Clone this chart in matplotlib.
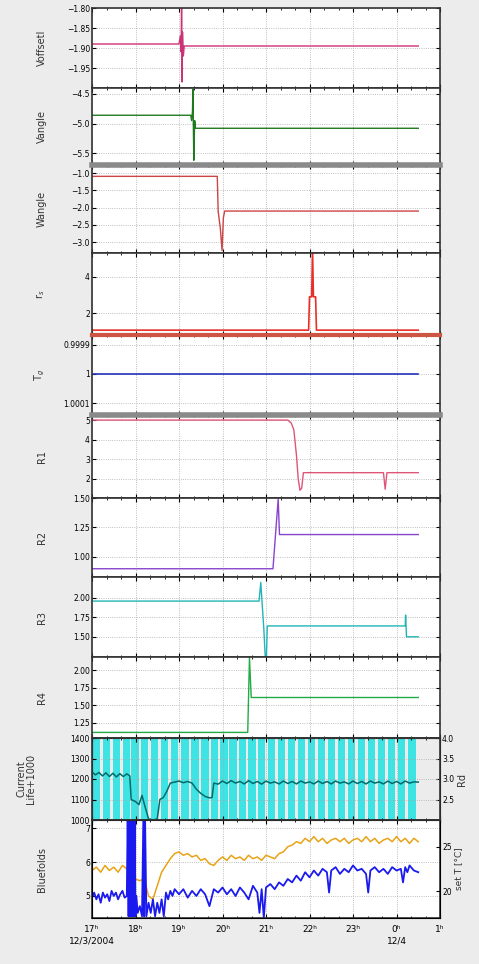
import matplotlib
matplotlib.use("Agg")
import matplotlib.pyplot as plt
from matplotlib.ticker import MultipleLocator, FixedLocator, FormatStrFormatter

# time in hours from 0h of 12/3/2004 (24 = 0h of 12/4)
hour_ticks = [17, 18, 19, 20, 21, 22, 23, 24, 25]
hour_labels = ["17ʰ\n12/3/2004", "18ʰ", "19ʰ", "20ʰ", "21ʰ", "22ʰ", "23ʰ", "0ʰ\n12/4", "1ʰ"]

voff_t = [17.0, 19.0, 19.03, 19.05, 19.06, 19.07, 19.08, 19.1, 19.12, 24.5]
voff_v = [-1.89, -1.89, -1.87, -1.91, -1.74, -1.985, -1.86, -1.92, -1.895, -1.895]

vang_t = [17.0, 19.27, 19.29, 19.31, 19.32, 19.34, 19.36, 19.38, 24.5]
vang_v = [-4.86, -4.86, -4.95, -4.8, -4.42, -5.62, -4.95, -5.08, -5.08]

wang_t = [17.0, 19.88, 19.9, 19.95, 19.99, 20.02, 20.05, 24.5]
wang_v = [-1.09, -1.09, -2.1, -2.6, -3.25, -2.3, -2.1, -2.1]

rs_t = [17.0, 21.98, 22.0, 22.05, 22.07, 22.09, 22.14, 22.16, 24.5]
rs_v = [1.05, 1.05, 2.9, 2.9, 5.6, 2.9, 2.9, 1.05, 1.05]

tg_t = [17.0, 24.5]
tg_v = [1.0, 1.0]

r1_t = [17.0, 21.5, 21.58, 21.64, 21.7, 21.74, 21.78, 21.82, 21.86, 23.7, 23.74, 23.78, 24.5]
r1_v = [5.0, 5.0, 4.85, 4.5, 3.2, 2.0, 1.4, 1.5, 2.3, 2.3, 1.45, 2.3, 2.3]

r2_t = [17.0, 21.16, 21.28, 21.31, 24.5]
r2_v = [0.9, 0.9, 1.49, 1.19, 1.19]

r3_t = [17.0, 20.84, 20.88, 20.95, 21.0, 21.03, 24.2, 24.21, 24.23, 24.5]
r3_v = [1.96, 1.96, 2.2, 1.6, 1.05, 1.64, 1.64, 1.78, 1.5, 1.5]

r4_t = [17.0, 20.58, 20.62, 20.66, 24.5]
r4_v = [1.11, 1.11, 2.18, 1.61, 1.61]

cur_t = [17.0, 17.08, 17.16, 17.24, 17.32, 17.4, 17.48, 17.56, 17.64, 17.72, 17.8, 17.87,
         17.9, 18.0, 18.08, 18.15, 18.2, 18.3, 18.4, 18.5, 18.56, 18.64, 18.72, 18.8,
         18.9, 19.0, 19.1, 19.2, 19.3, 19.4, 19.5, 19.6, 19.7, 19.76, 19.8, 19.9, 20.0,
         20.1, 20.2, 20.3, 20.4, 20.5, 20.6, 20.7, 20.8, 20.9, 21.0, 21.1, 21.2, 21.3,
         21.4, 21.5, 21.6, 21.7, 21.8, 21.9, 22.0, 22.1, 22.2, 22.3, 22.4, 22.5, 22.6,
         22.7, 22.8, 22.9, 23.0, 23.1, 23.2, 23.3, 23.4, 23.5, 23.6, 23.7, 23.8, 23.9,
         24.0, 24.1, 24.2, 24.3, 24.4, 24.5]
cur_v = [1235, 1220, 1232, 1215, 1230, 1212, 1228, 1210, 1226, 1212, 1225, 1215,
         1100, 1090, 1075, 1120, 1080, 1005, 1000, 1005, 1100, 1110, 1140, 1180,
         1185, 1190, 1182, 1188, 1180, 1150, 1130, 1115, 1108, 1110, 1180, 1175, 1190,
         1178, 1192, 1180, 1188, 1176, 1192, 1178, 1188, 1175, 1190, 1180, 1186, 1176,
         1190, 1178, 1188, 1176, 1190, 1180, 1186, 1176, 1190, 1178, 1188, 1176, 1190,
         1180, 1186, 1176, 1190, 1178, 1188, 1176, 1190, 1180, 1186, 1176, 1190, 1178,
         1188, 1176, 1190, 1180, 1186, 1185]

rd_t = [17.1, 17.33, 17.56, 17.79, 17.99, 18.21, 18.44, 18.67, 18.9, 19.14, 19.37,
        19.6, 19.82, 20.03, 20.24, 20.46, 20.68, 20.9, 21.13, 21.36, 21.59, 21.82,
        22.05, 22.28, 22.51, 22.74, 22.97, 23.2, 23.43, 23.66, 23.89, 24.12, 24.36]
rd_v = [4.0, 4.0, 4.0, 4.0, 4.0, 4.0, 4.0, 4.0, 4.0, 4.0, 4.0,
        4.0, 4.0, 4.0, 4.0, 4.0, 4.0, 4.0, 4.0, 4.0, 4.0, 4.0,
        4.0, 4.0, 4.0, 4.0, 4.0, 4.0, 4.0, 4.0, 4.0, 4.0, 4.0]

blue_t = [17.0, 17.05, 17.1, 17.15, 17.2, 17.25, 17.3, 17.35, 17.4, 17.45, 17.5, 17.55,
          17.6, 17.65, 17.7, 17.75, 17.8, 17.82, 17.84, 17.86, 17.88, 17.9, 17.92, 17.94,
          17.96, 17.98, 18.0, 18.02, 18.05, 18.1, 18.15, 18.18, 18.2, 18.22, 18.25, 18.3,
          18.35, 18.4, 18.45, 18.5, 18.55, 18.6, 18.65, 18.7, 18.75, 18.8, 18.85, 18.9,
          19.0, 19.1, 19.2, 19.3, 19.4, 19.5, 19.6, 19.7, 19.8, 19.9, 20.0, 20.1, 20.2,
          20.3, 20.4, 20.5, 20.6, 20.7, 20.8, 20.85, 20.9, 20.95, 21.0, 21.1, 21.2, 21.3,
          21.4, 21.5, 21.6, 21.7, 21.8, 21.9, 22.0, 22.1, 22.2, 22.3, 22.4, 22.45, 22.5,
          22.6, 22.7, 22.8, 22.9, 23.0, 23.1, 23.2, 23.3, 23.35, 23.4, 23.5, 23.6, 23.7,
          23.8, 23.9, 24.0, 24.1, 24.15, 24.2, 24.25, 24.3, 24.4, 24.5]
blue_v = [4.95, 5.1, 4.9, 5.05, 4.8, 5.1, 4.95, 5.05, 4.85, 5.15, 5.0, 5.1,
          4.9, 5.05, 5.15, 4.95, 5.0, 7.3, 4.4, 7.3, 4.4, 7.3, 4.4, 7.3,
          4.4, 7.3, 4.4, 5.0, 4.5, 4.7, 4.4, 7.3, 4.4, 7.3, 4.4, 4.8,
          4.5, 4.9, 4.4, 4.8, 4.5, 4.9, 4.4, 5.1, 4.9, 5.15, 5.0, 5.2,
          5.05, 5.2, 4.95, 5.15, 5.0, 5.2, 5.05, 4.7, 5.2, 5.1, 5.25, 5.05, 5.2,
          5.0, 5.25, 5.1, 4.9, 5.3, 5.1, 4.5, 5.2, 4.35, 5.25, 5.35, 5.2, 5.4,
          5.3, 5.5, 5.4, 5.6, 5.45, 5.7, 5.55, 5.75, 5.6, 5.8, 5.7, 5.1, 5.75,
          5.85, 5.65, 5.8, 5.7, 5.9, 5.75, 5.8, 5.65, 5.1, 5.75, 5.85, 5.7, 5.8,
          5.65, 5.85, 5.75, 5.8, 5.4, 5.85, 5.7, 5.9, 5.75, 5.7]

orange_t = [17.0, 17.1, 17.2, 17.3, 17.4, 17.5, 17.6, 17.7, 17.8, 17.9, 18.0, 18.1,
            18.2, 18.3, 18.4, 18.5, 18.6, 18.7, 18.8, 18.9, 19.0, 19.1, 19.2, 19.3,
            19.4, 19.5, 19.6, 19.7, 19.8, 19.9, 20.0, 20.1, 20.2, 20.3, 20.4, 20.5,
            20.6, 20.7, 20.8, 20.9, 21.0, 21.1, 21.2, 21.3, 21.4, 21.5, 21.6, 21.7,
            21.8, 21.9, 22.0, 22.1, 22.2, 22.3, 22.4, 22.5, 22.6, 22.7, 22.8, 22.9,
            23.0, 23.1, 23.2, 23.3, 23.4, 23.5, 23.6, 23.7, 23.8, 23.9, 24.0, 24.1,
            24.2, 24.3, 24.4, 24.5]
orange_v = [5.75, 5.85, 5.7, 5.9, 5.75, 5.85, 5.7, 5.9, 5.8, 5.6, 5.5, 5.45,
            5.5, 5.0, 4.9, 5.3, 5.7, 5.9, 6.1, 6.25, 6.3, 6.2, 6.25, 6.15,
            6.2, 6.05, 6.1, 5.95, 5.9, 6.05, 6.15, 6.05, 6.2, 6.1, 6.15, 6.05,
            6.2, 6.1, 6.15, 6.05, 6.2, 6.15, 6.1, 6.25, 6.3, 6.45, 6.5, 6.6,
            6.55, 6.7, 6.6, 6.75, 6.6, 6.7, 6.55, 6.65, 6.7, 6.6, 6.7, 6.55,
            6.65, 6.7, 6.6, 6.75, 6.6, 6.7, 6.55, 6.65, 6.7, 6.6, 6.75, 6.6,
            6.7, 6.55, 6.7, 6.6]

W, H = 479.0, 964.0
LEFT, RIGHT = 92.0, 440.0


def panel(fig, top, bottom):
    """Axes placed by pixel rows"""
    ax = fig.add_axes([LEFT / W, 1 - bottom / H, (RIGHT - LEFT) / W, (bottom - top) / H])
    ax.set_xlim(17, 25)
    ax.xaxis.set_major_locator(FixedLocator(hour_ticks))
    ax.xaxis.set_minor_locator(MultipleLocator(1 / 3))
    ax.tick_params(which="both", direction="in", top=True, right=True, labelsize=5.5, pad=1.5)
    ax.tick_params(which="major", length=3, width=0.8)
    ax.tick_params(which="minor", length=1.5, width=0.6)
    ax.grid(True, which="major", linestyle=":", color="#aaaaaa", linewidth=0.6)
    ax.tick_params(axis="x", labelbottom=False)
    for s in ax.spines.values():
        s.set_linewidth(1.2)
        s.set_color("#333333")
    ax.yaxis.set_label_coords(-0.13, 0.5)
    return ax


def main():
    """Stacked instrument panels"""
    fig = plt.figure(figsize=(W / 100, H / 100), dpi=100)
    fig.patch.set_facecolor("#ececec")

    ax = panel(fig, 8, 88)
    ax.plot(voff_t, voff_v, color="#cc3377", lw=1.0)
    ax.set_ylim(-2.0, -1.8)
    ax.set_yticks([-1.95, -1.9, -1.85, -1.8])
    ax.set_ylabel("VoffsetI", fontsize=7, color="#333333")

    ax = panel(fig, 88, 165)
    ax.plot(vang_t, vang_v, color="#1f7a1f", lw=1.0)
    ax.set_ylim(-5.7, -4.4)
    ax.set_yticks([-5.5, -5, -4.5])
    ax.set_ylabel("Vangle", fontsize=7, color="#333333")

    ax = panel(fig, 165, 253)
    ax.plot(wang_t, wang_v, color="#cc4444", lw=1.0)
    ax.set_ylim(-3.32, -0.76)
    ax.set_yticks([-3, -2.5, -2, -1.5, -1])
    ax.spines["top"].set_linewidth(4)
    ax.spines["top"].set_color("#8a8a8a")
    ax.set_ylabel("Wangle", fontsize=7, color="#333333")

    ax = panel(fig, 253, 335)
    ax.plot(rs_t, rs_v, color="#e8302a", lw=1.2)
    ax.set_ylim(0.78, 5.33)
    ax.set_yticks([2, 4])
    ax.set_ylabel("r$_s$", fontsize=7, color="#333333")

    ax = panel(fig, 335, 415)
    ax.plot(tg_t, tg_v, color="#2233bb", lw=1.2)
    ax.set_ylim(1.00014, 0.999867)
    ax.set_yticks([0.9999, 1.0, 1.0001])
    ax.yaxis.set_major_formatter(FormatStrFormatter("%g"))
    ax.spines["top"].set_linewidth(3)
    ax.spines["top"].set_color("#cc5544")
    ax.set_ylabel("T$_g$", fontsize=7, color="#333333")

    ax = panel(fig, 415, 498)
    ax.plot(r1_t, r1_v, color="#e05577", lw=1.0)
    ax.set_ylim(1, 5.26)
    ax.set_yticks([2, 3, 4, 5])
    ax.spines["top"].set_linewidth(4)
    ax.spines["top"].set_color("#8a8a8a")
    ax.set_ylabel("R1", fontsize=7, color="#333333")

    ax = panel(fig, 498, 577)
    ax.plot(r2_t, r2_v, color="#8844cc", lw=1.0)
    ax.set_ylim(0.83, 1.5)
    ax.set_yticks([1, 1.25, 1.5])
    ax.set_ylabel("R2", fontsize=7, color="#333333")

    ax = panel(fig, 577, 657)
    ax.plot(r3_t, r3_v, color="#22b5b5", lw=1.0)
    ax.set_ylim(1.24, 2.27)
    ax.set_yticks([1.5, 1.75, 2])
    ax.set_ylabel("R3", fontsize=7, color="#333333")

    ax = panel(fig, 657, 738)
    ax.plot(r4_t, r4_v, color="#22aa44", lw=1.0)
    ax.set_ylim(1.03, 2.19)
    ax.set_yticks([1.25, 1.5, 1.75, 2])
    ax.set_ylabel("R4", fontsize=7, color="#333333")

    ax = panel(fig, 738, 820)
    ax2 = ax.twinx()
    ax2.bar(rd_t, [v - 2 for v in rd_v], bottom=2, width=0.17, color="#3ee3e3",
            edgecolor="none", zorder=1)
    ax2.set_ylim(2, 4)
    ax2.set_yticks([2.5, 3, 3.5, 4])
    ax2.tick_params(direction="in", labelsize=5.5, length=3, pad=1.5)
    ax2.set_ylabel("Rd", fontsize=7, labelpad=2, color="#333333")
    ax.set_zorder(ax2.get_zorder() + 1)
    ax.patch.set_visible(False)
    ax.plot(cur_t, cur_v, color="#006b6b", lw=1.1)
    ax.set_ylim(1000, 1400)
    ax.set_yticks([1000, 1100, 1200, 1300, 1400])
    ax.tick_params(axis="y", right=False)
    ax.set_ylabel("Current\nLife+1000", fontsize=7, linespacing=1.0, color="#333333")
    ax.yaxis.set_label_coords(-0.16, 0.5)

    ax = panel(fig, 820, 918)
    ax.plot(orange_t, orange_v, color="#e8a317", lw=1.1)
    ax.plot(blue_t, blue_v, color="#1a1aee", lw=1.3)
    ax.set_ylim(4.35, 7.24)
    ax.set_yticks([5, 6, 7])
    ax.set_ylabel("Bluefolds", fontsize=7, color="#333333")
    ax.tick_params(axis="y", right=False)
    ax.tick_params(axis="x", labelbottom=True, labelsize=6.5, pad=5)
    ax.set_xticklabels(hour_labels, linespacing=1.3)
    ax3 = ax.twinx()
    ax3.set_ylim(17, 28)
    ax3.set_yticks([20, 25])
    ax3.tick_params(direction="in", labelsize=5.5, length=3, pad=1.5)
    ax3.set_ylabel("set T [°C]", fontsize=6.5, labelpad=2, color="#333333")

    fig.savefig("out.png", dpi=100, facecolor=fig.get_facecolor())


if __name__ == "__main__":
    exit(main())
